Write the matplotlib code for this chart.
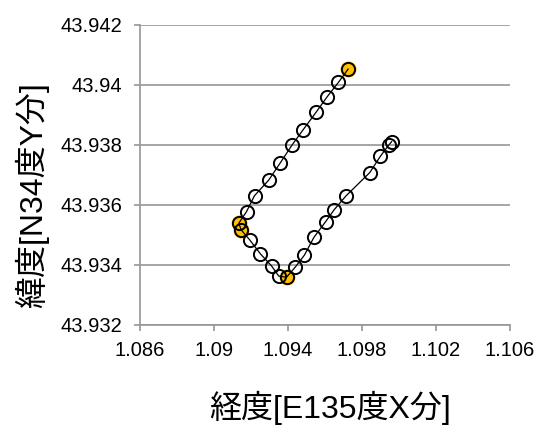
import matplotlib.pyplot as plt

plt.rcParams['font.family'] = ['Liberation Sans', 'Noto Sans CJK JP', 'DejaVu Sans']

# track points, in travel order
lon = [1.09960, 1.09945, 1.09900, 1.09842, 1.09713, 1.09648, 1.09603, 1.09540,
       1.09489, 1.09438, 1.09392, 1.09350, 1.09311, 1.09251, 1.09194, 1.09147,
       1.09134, 1.09176, 1.09219, 1.09296, 1.09359, 1.09422, 1.09481, 1.09554,
       1.09612, 1.09673, 1.09725]
lat = [43.93811, 43.93800, 43.93763, 43.93708, 43.93630, 43.93583, 43.93544, 43.93492,
       43.93433, 43.93392, 43.93359, 43.93363, 43.93397, 43.93437, 43.93483, 43.93517,
       43.93539, 43.93578, 43.93631, 43.93683, 43.93741, 43.93800, 43.93850, 43.93911,
       43.93961, 43.94009, 43.94053]

# highlighted points
hl_lon = [1.09392, 1.09147, 1.09134, 1.09725]
hl_lat = [43.93359, 43.93517, 43.93539, 43.94053]

xticks = [1.086, 1.09, 1.094, 1.098, 1.102, 1.106]
yticks = [43.932, 43.934, 43.936, 43.938, 43.94, 43.942]

fig = plt.figure(figsize=(5.39, 4.34), dpi=100)
ax = fig.add_axes([0.2597, 0.2512, 0.6865, 0.6912])

ax.plot(hl_lon, hl_lat, 'o', color='#FFC000', markersize=11.5, markeredgewidth=0, zorder=3)
ax.plot(lon, lat, '-o', color='black', linewidth=0.9, markersize=9.5,
        markerfacecolor='none', markeredgecolor='black', markeredgewidth=1.4, zorder=4)

ax.set_xlim(1.086, 1.106)
ax.set_ylim(43.932, 43.942)
ax.set_xticks(xticks)
ax.set_xticklabels([str(v) for v in xticks])
ax.set_yticks(yticks)
ax.set_yticklabels([str(v) for v in yticks])

ax.grid(axis='y', color='#969696', linewidth=1.2)
ax.set_axisbelow(True)
for s in ['top', 'right']:
    ax.spines[s].set_visible(False)
for s in ['left', 'bottom']:
    ax.spines[s].set_color('#969696')
    ax.spines[s].set_linewidth(1.2)
ax.tick_params(colors='#969696', length=4.5, width=1.2, labelsize=14.5, labelcolor='black')
ax.tick_params(axis='y', pad=8)
ax.tick_params(axis='x', pad=7)

ax.set_xlabel('経度[E135度X分]', fontsize=23)
ax.set_ylabel('緯度[N34度Y分]', fontsize=23)
ax.xaxis.set_label_coords(0.514, -0.218)
ax.yaxis.set_label_coords(-0.245, 0.433)

fig.savefig('out.png', dpi=100)
